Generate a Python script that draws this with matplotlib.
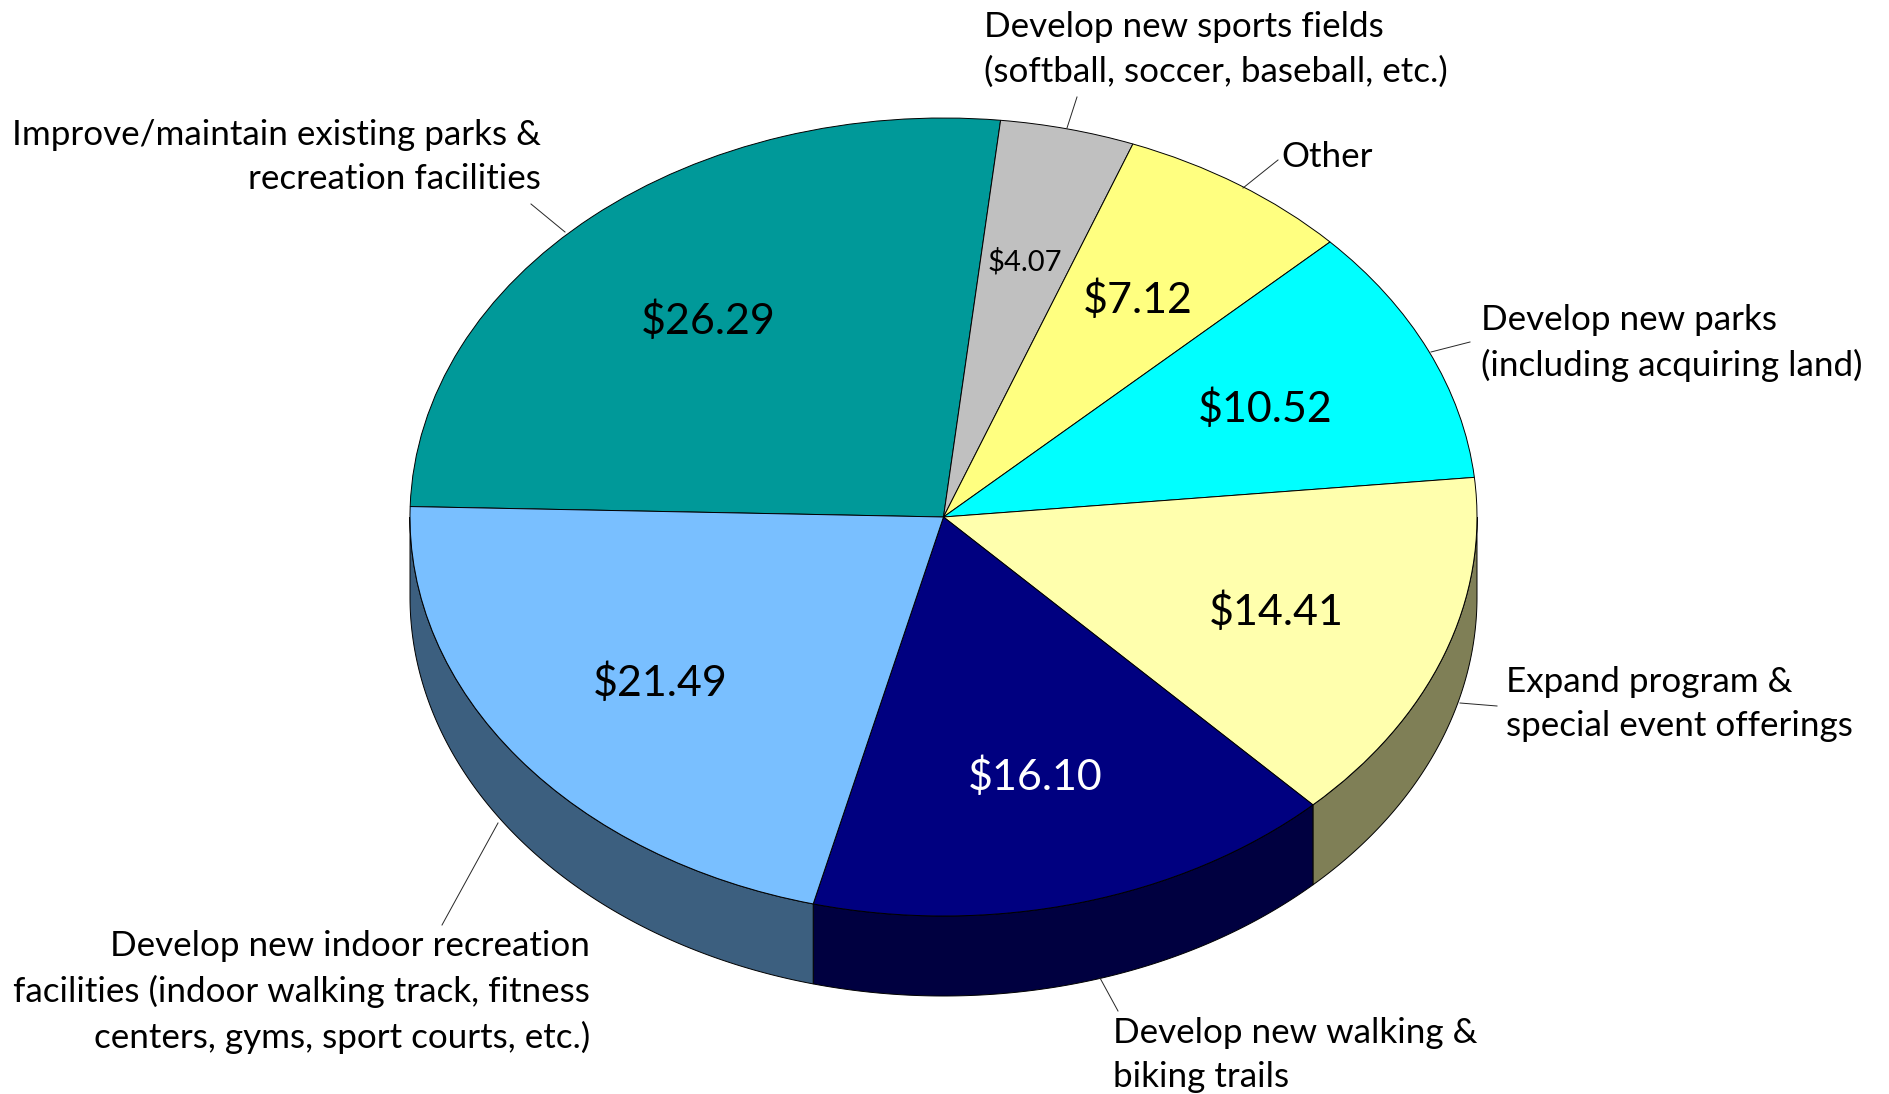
# plot.py
# 3D look pie chart, drawn with ax.pie squashed into an ellipse
import numpy as np
import matplotlib
matplotlib.use('Agg')
import matplotlib.pyplot as plt

plt.rcParams['font.family'] = ['Lato', 'DejaVu Sans']

# -----------------data
values = [26.29, 4.07, 7.12, 10.52, 14.41, 16.10, 21.49]
labels = [
    'Improve/maintain existing parks &\nrecreation facilities',
    'Develop new sports fields\n(softball, soccer, baseball, etc.)',
    'Other',
    'Develop new parks\n(including acquiring land)',
    'Expand program &\nspecial event offerings',
    'Develop new walking &\nbiking trails',
    'Develop new indoor recreation\nfacilities (indoor walking track, fitness\ncenters, gyms, sport courts, etc.)',
]
colors = ['#009999', '#C0C0C0', '#FFFF80', '#00FFFF', '#FFFFAD', '#000080', '#79BFFF']
wall_colors = ['#004C4C', '#606060', '#7F7F40', '#007F7F', '#7F7F56', '#000040', '#3C5F7F']

# -----------------layout, in pixels of the 1889x1094 picture
W, H = 1889, 1094
cx, cy, rx, ry = 943.5, 517, 533.5, 399
depth = 80
label_pos = [(541, 157, 'right'), (984, 49, 'left'), (1281, 157, 'left'), (1481, 343, 'left'),
             (1506, 704, 'left'), (1113, 1055, 'left'), (590, 992, 'right')]
value_pos = [(708, 321), (1025, 262), (1138, 300), (1265, 409), (1276, 612), (1035, 777), (660, 683)]
leaders = [((565, 232), (531, 204)), ((1077, 97), (1067, 128)), ((1278, 160), (1243, 188)),
           ((1470, 342), (1431, 352)), ((1497, 706), (1460, 703)), ((1118, 1011), (1100, 978)),
           ((442, 925), (498, 823))]

fig = plt.figure(figsize=(W / 100, H / 100), dpi=100, facecolor='white')

# pie axes: one data unit is one radius, x and y scaled differently
ax = fig.add_axes([0, 0, 1, 1])
wedges, _ = ax.pie(values, colors=colors, startangle=178.5, counterclock=False,
                   wedgeprops={'edgecolor': 'black', 'linewidth': 0.7, 'zorder': 3})
ax.set_aspect('auto')
ax.set_xlim(-cx / rx, (W - cx) / rx)
ax.set_ylim(-(H - cy) / ry, cy / ry)
ax.axis('off')

# side wall: lower half of each wedge pushed down by the depth
d = depth / ry
for wedge, wc in zip(wedges, wall_colors):
    t1, t2 = wedge.theta1 % 360, wedge.theta2 % 360
    if t2 <= t1:
        t2 += 360
    a1, a2 = max(t1, 180), min(t2, 360)
    if a2 <= a1:
        continue
    t = np.radians(np.linspace(a1, a2, 200))
    xs = np.r_[np.cos(t), np.cos(t[::-1])]
    ys = np.r_[np.sin(t), np.sin(t[::-1]) - d]
    ax.fill(xs, ys, facecolor=wc, edgecolor='black', linewidth=0.7, zorder=2)

# overlay axes in pixels for the texts and leader lines
ov = fig.add_axes([0, 0, 1, 1], facecolor='none')
ov.set_xlim(0, W)
ov.set_ylim(H, 0)
ov.axis('off')

for text, (x, y, ha) in zip(labels, label_pos):
    ov.text(x, y, text, ha=ha, va='center', fontsize=25.2, linespacing=1.48, color='black', multialignment=ha)
for (p, q) in leaders:
    ov.plot([p[0], q[0]], [p[1], q[1]], color='#262626', linewidth=0.7)
for i, (v, (x, y)) in enumerate(zip(values, value_pos)):
    ov.text(x, y, '\\$%.2f' % v, ha='center', va='center',
            fontsize=21 if v < 5 else 31, color='white' if colors[i] == '#000080' else 'black')

fig.savefig('out.png', dpi=100)
